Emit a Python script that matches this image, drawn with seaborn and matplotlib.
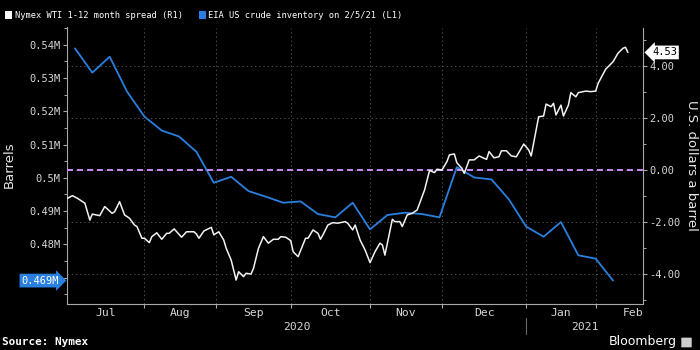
import matplotlib
matplotlib.use("Agg")
import matplotlib.pyplot as plt
import matplotlib.dates as mdates
import matplotlib.ticker as mticker
import matplotlib.transforms as mtransforms
from matplotlib.patches import Rectangle, FancyBboxPatch
import pandas as pd
import seaborn as sns

# ---------------- data ----------------
spread_dates = [
    "2020-07-03", "2020-07-05", "2020-07-07", "2020-07-10", "2020-07-12", "2020-07-13", "2020-07-16", "2020-07-18",
    "2020-07-21", "2020-07-22", "2020-07-24", "2020-07-26", "2020-07-28", "2020-07-30", "2020-07-31",
    "2020-08-02", "2020-08-03", "2020-08-05", "2020-08-06", "2020-08-08", "2020-08-10", "2020-08-12", "2020-08-13",
    "2020-08-15", "2020-08-18", "2020-08-20", "2020-08-23", "2020-08-24", "2020-08-25", "2020-08-27", "2020-08-30",
    "2020-08-31",
    "2020-09-02", "2020-09-04", "2020-09-05", "2020-09-07", "2020-09-09", "2020-09-10", "2020-09-12", "2020-09-13",
    "2020-09-15", "2020-09-16", "2020-09-18", "2020-09-20", "2020-09-22", "2020-09-24", "2020-09-26", "2020-09-27",
    "2020-09-29",
    "2020-10-01", "2020-10-02", "2020-10-04", "2020-10-07", "2020-10-08", "2020-10-10", "2020-10-12", "2020-10-13",
    "2020-10-14", "2020-10-16", "2020-10-18", "2020-10-20", "2020-10-23", "2020-10-24", "2020-10-26", "2020-10-27",
    "2020-10-29", "2020-10-31",
    "2020-11-02", "2020-11-04", "2020-11-06", "2020-11-07", "2020-11-08", "2020-11-11", "2020-11-12", "2020-11-14",
    "2020-11-15", "2020-11-17", "2020-11-19", "2020-11-21", "2020-11-22", "2020-11-24", "2020-11-25", "2020-11-26",
    "2020-11-28", "2020-11-29",
    "2020-12-01", "2020-12-03", "2020-12-04", "2020-12-06", "2020-12-07", "2020-12-09", "2020-12-10", "2020-12-12",
    "2020-12-14", "2020-12-16", "2020-12-18", "2020-12-19", "2020-12-20", "2020-12-22", "2020-12-24", "2020-12-25",
    "2020-12-27", "2020-12-29", "2020-12-31",
    "2021-01-03", "2021-01-05", "2021-01-06", "2021-01-08", "2021-01-09", "2021-01-11", "2021-01-12", "2021-01-14",
    "2021-01-15", "2021-01-16", "2021-01-18", "2021-01-19", "2021-01-21", "2021-01-22", "2021-01-24", "2021-01-25",
    "2021-01-28", "2021-01-30",
    "2021-02-01", "2021-02-02", "2021-02-05", "2021-02-08", "2021-02-10", "2021-02-12", "2021-02-13", "2021-02-14",
]
spread_values = [
    -1.09, -0.99, -1.09, -1.28, -1.93, -1.70, -1.76, -1.41, -1.67, -1.61, -1.22, -1.73, -1.86, -2.12, -2.18,
    -2.63, -2.63, -2.80, -2.57, -2.42, -2.67, -2.44, -2.44, -2.27, -2.59, -2.38, -2.38, -2.47, -2.63, -2.35, -2.21,
    -2.50,
    -2.38, -2.70, -3.02, -3.47, -4.24, -3.92, -4.11, -3.98, -4.01, -3.79, -3.02, -2.57, -2.82, -2.67, -2.67, -2.57,
    -2.59,
    -2.72, -3.15, -3.34, -2.63, -2.63, -2.31, -2.44, -2.67, -2.50, -2.12, -2.03, -2.05, -1.99, -2.05, -2.31, -2.12,
    -2.70, -3.08,
    -3.57, -3.15, -2.82, -2.89, -3.28, -1.90, -1.99, -1.99, -2.18, -1.73, -1.67, -1.54, -1.28, -0.77, -0.39, -0.02,
    -0.10, 0.03,
    0.00, 0.32, 0.58, 0.62, 0.28, 0.07, -0.13, 0.39, 0.39, 0.54, 0.45, 0.41, 0.71, 0.47, 0.51, 0.74, 0.74, 0.54,
    0.51,
    1.00, 0.77, 0.54, 1.54, 2.05, 2.08, 2.54, 2.44, 2.57, 2.12, 2.50, 2.08, 2.50, 2.98, 2.82, 2.98, 3.04, 3.02,
    3.04, 3.34, 3.88, 4.17, 4.50, 4.69, 4.73, 4.53,
]

inventory_dates = [
    "2020-07-06", "2020-07-13", "2020-07-20", "2020-07-27", "2020-08-03", "2020-08-10", "2020-08-17", "2020-08-24",
    "2020-08-31", "2020-09-07", "2020-09-14", "2020-09-21", "2020-09-28", "2020-10-05", "2020-10-12", "2020-10-19",
    "2020-10-26", "2020-11-02", "2020-11-09", "2020-11-16", "2020-11-23", "2020-11-30", "2020-12-07", "2020-12-14",
    "2020-12-21", "2020-12-28", "2021-01-04", "2021-01-11", "2021-01-18", "2021-01-25", "2021-02-01", "2021-02-08",
]
inventory_values = [
    0.5389, 0.5316, 0.5364, 0.5259, 0.5184, 0.5142, 0.5124, 0.5078,
    0.4985, 0.5003, 0.4960, 0.4943, 0.4925, 0.4929, 0.4891, 0.4881,
    0.4925, 0.4845, 0.4888, 0.4895, 0.4891, 0.4881, 0.5032, 0.5001,
    0.4995, 0.4935, 0.4853, 0.4823, 0.4867, 0.4767, 0.4757, 0.4691,
]

series_names = ["Nymex WTI 1-12 month spread (R1)", "EIA US crude inventory on 2/5/21 (L1)"]
month_labels = ["Jul", "Aug", "Sep", "Oct", "Nov", "Dec", "Jan", "Feb"]
month_tick_dates = ["2020-08-03", "2020-09-01", "2020-10-01", "2020-11-02", "2020-12-01", "2021-01-04", "2021-02-01"]
year_labels = ["2020", "2021"]
left_ticks = [0.47, 0.48, 0.49, 0.50, 0.51, 0.52, 0.53, 0.54]
left_hidden_label = 0.47  # covered by the last-value box in the reference
right_ticks = [-4, -2, 0, 2, 4]
left_axis_title = "Barrels"
right_axis_title = "U.S. dollars a barrel"
source_text = "Source: Nymex"
brand_text = "Bloomberg"

# ---------------- style ----------------
BLUE = "#2a80e0"
WHITE = "#f2f2f2"
LAVENDER = "#c98cf5"
GRID = "#5a5a5a"
SPINE = "#a8a8a8"
TXT = "#d6d6d6"

sns.set_theme(style="dark")
plt.rcParams["font.family"] = ["DejaVu Sans Mono", "DejaVu Sans"]
plt.rcParams["lines.scale_dashes"] = False
plt.rcParams["figure.facecolor"] = "black"
plt.rcParams["axes.facecolor"] = "black"

W, H = 700, 350
fig = plt.figure(figsize=(7, 3.5), dpi=100)
fig.patch.set_facecolor("black")
L, R, T, B = 67, 643.3, 27.5, 304
ax = fig.add_axes([L / W, 1 - B / H, (R - L) / W, (B - T) / H])
ax.set_facecolor("black")
ax2 = ax.twinx()

df_inv = pd.DataFrame({"date": pd.to_datetime(inventory_dates), "value": inventory_values})
df_spr = pd.DataFrame({"date": pd.to_datetime(spread_dates), "value": spread_values})

sns.lineplot(data=df_inv, x="date", y="value", ax=ax, color=BLUE, lw=1.3)
sns.lineplot(data=df_spr, x="date", y="value", ax=ax2, color=WHITE, lw=1.1)
ax2.axhline(0, color=LAVENDER, lw=1.4, dashes=(4.3, 2.9), zorder=1)

for a in (ax, ax2):
    a.set_xlabel("")
    a.set_ylabel("")
    a.grid(False)

# limits
x0 = pd.Timestamp("2020-07-02 19:00")
x1 = pd.Timestamp("2021-02-20 05:00")
ax.set_xlim(x0, x1)
ax.set_ylim(0.46206, 0.54517)
ax2.set_ylim(-5.164, 5.491)

# x ticks: month boundaries (major) + centred labels (minor)
tick_nums = [mdates.date2num(pd.Timestamp(d)) for d in month_tick_dates]
bounds = [mdates.date2num(x0)] + tick_nums
label_pos = [(bounds[i] + bounds[i + 1]) / 2 for i in range(len(bounds) - 1)] + [tick_nums[-1] + 15]
ax.xaxis.set_major_locator(mticker.FixedLocator(tick_nums))
ax.xaxis.set_major_formatter(mticker.NullFormatter())
ax.xaxis.set_minor_locator(mticker.FixedLocator(label_pos))
ax.xaxis.set_minor_formatter(mticker.FixedFormatter(month_labels))
ax.tick_params(axis="x", which="major", length=3, width=0.8, color=SPINE, direction="out", bottom=True)
ax.tick_params(axis="x", which="minor", length=0, pad=3, labelsize=8.2, labelcolor=TXT, bottom=True)
ax.grid(axis="x", which="major", color=GRID, lw=0.6, ls=(0, (1, 2)))

# year labels + separator
blend = mtransforms.blended_transform_factory(ax.transData, ax.transAxes)
sep = tick_nums[5]
year_pos = [(mdates.date2num(x0) + sep) / 2, (sep + mdates.date2num(x1)) / 2]
for yp, yl in zip(year_pos, year_labels):
    ax.text(yp, -0.083, yl, transform=blend, ha="center", va="center", fontsize=8.2, color=TXT)
ax.plot([sep, sep], [-0.05, -0.11], transform=blend, color="#6a6a6a", lw=0.8, clip_on=False)

# left y axis
def left_fmt(v, p):
    if abs(v - left_hidden_label) < 1e-9:
        return ""
    return f"{round(v, 3):g}M"

ax.yaxis.set_major_locator(mticker.FixedLocator(left_ticks))
ax.yaxis.set_minor_locator(mticker.MultipleLocator(0.005))
ax.yaxis.set_major_formatter(mticker.FuncFormatter(left_fmt))
ax.tick_params(axis="y", which="major", left=True, length=3, width=0.8, color=SPINE, pad=1.5,
               labelsize=7.5, labelcolor=TXT, direction="out")
ax.tick_params(axis="y", which="minor", left=True, length=2, width=0.7, color=SPINE, direction="out")

# right y axis
ax2.yaxis.set_major_locator(mticker.FixedLocator(right_ticks))
ax2.yaxis.set_minor_locator(mticker.MultipleLocator(1))
ax2.yaxis.set_major_formatter(mticker.FuncFormatter(lambda v, p: f"{v:.2f}"))
ax2.tick_params(axis="y", which="major", right=True, length=3, width=0.8, color=SPINE, pad=1.5,
                labelsize=7.5, labelcolor=TXT, direction="out")
ax2.tick_params(axis="y", which="minor", right=True, length=2, width=0.7, color=SPINE, direction="out")
ax2.grid(axis="y", which="major", color=GRID, lw=0.6, ls=(0, (1, 2)))

# spines
for a in (ax, ax2):
    a.spines["top"].set_visible(False)
    for s in ("left", "right", "bottom"):
        a.spines[s].set_color(SPINE)
        a.spines[s].set_linewidth(0.8)
ax.spines["right"].set_visible(False)
ax2.spines["left"].set_visible(False)
ax2.spines["bottom"].set_visible(False)

# axis titles
fig.text(9 / W, 1 - 165 / H, left_axis_title, rotation=90, ha="center", va="center",
         fontsize=9.5, color="#e6e6e6", family="DejaVu Sans")
fig.text(691 / W, 1 - 165 / H, right_axis_title, rotation=-90, ha="center", va="center",
         fontsize=9.5, color="#e6e6e6", family="DejaVu Sans")

# last value boxes
tl = mtransforms.blended_transform_factory(ax.transAxes, ax.transData)
ax.text(-0.014, inventory_values[-1], f"{inventory_values[-1]:.3f}M", transform=tl, ha="right", va="center",
        fontsize=7.5, color="white", zorder=10, clip_on=False,
        bbox=dict(boxstyle="rarrow,pad=0.18", fc=BLUE, ec="none"))
tr = mtransforms.blended_transform_factory(ax2.transAxes, ax2.transData)
ax2.text(1.015, spread_values[-1], f"{spread_values[-1]:.2f}", transform=tr, ha="left", va="center",
         fontsize=7.5, color="black", zorder=10, clip_on=False,
         bbox=dict(boxstyle="larrow,pad=0.18", fc="white", ec="none"))

# legend
fig.patches.append(Rectangle((5 / W, 1 - 18.5 / H), 7 / W, 7 / H, transform=fig.transFigure,
                             fc="white", ec="none"))
fig.text(15 / W, 1 - 15.5 / H, series_names[0], ha="left", va="center", fontsize=6.3, color="white")
fig.patches.append(Rectangle((199 / W, 1 - 18.5 / H), 7 / W, 7 / H, transform=fig.transFigure,
                             fc=BLUE, ec="none"))
fig.text(208 / W, 1 - 15.5 / H, series_names[1], ha="left", va="center", fontsize=6.3, color="white")

# footer
fig.text(2 / W, 1 - 342 / H, source_text, ha="left", va="center", fontsize=7.9, color="white",
         weight="bold")
fig.text(677 / W, 1 - 341 / H, brand_text, ha="right", va="center", fontsize=9, color="white",
         family="DejaVu Sans")
fig.patches.append(FancyBboxPatch((682 / W, 1 - 347 / H), 9 / W, 9 / H, boxstyle="round,pad=0.001",
                                  transform=fig.transFigure, fc="#cfcfcf", ec="none"))

fig.savefig("out.png", dpi=100, facecolor="black")
